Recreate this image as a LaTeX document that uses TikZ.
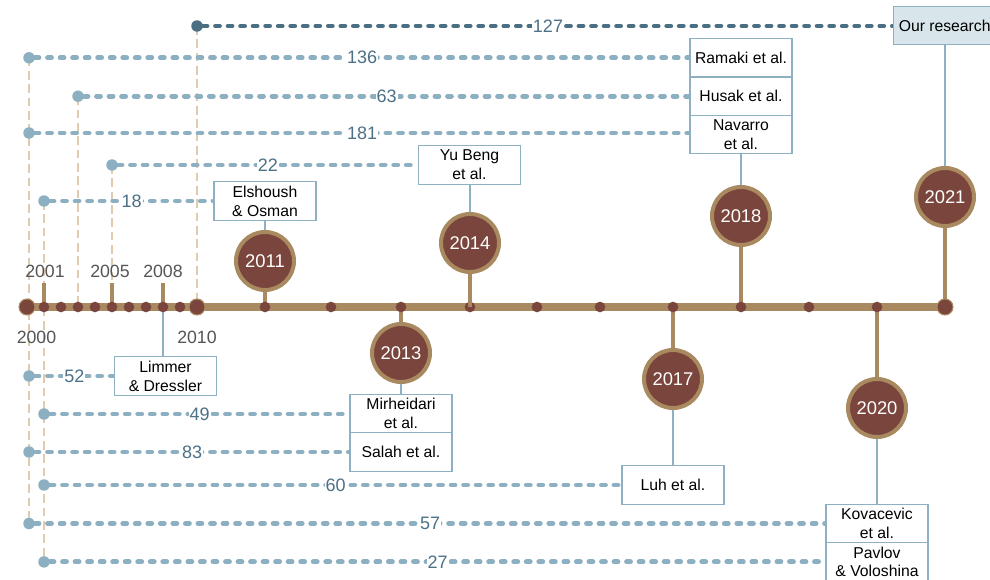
\documentclass[tikz,border=0pt]{standalone}
\usepackage{fontspec}
\setmainfont{Liberation Sans}
\definecolor{tan}{HTML}{A9895F}
\definecolor{guidetan}{HTML}{E0CAB0}
\definecolor{darkbrown}{HTML}{7A453C}
\definecolor{linkblue}{HTML}{8CAFC1}
\definecolor{deepblue}{HTML}{4A6E82}
\definecolor{numblue}{HTML}{4C7086}
\definecolor{boxblue}{HTML}{8DB1C3}
\definecolor{oursfill}{HTML}{D8E5EB}
\definecolor{yeargray}{HTML}{555555}
\pgfdeclarelayer{bg}
\pgfdeclarelayer{mid}
\pgfsetlayers{bg,mid,main}
\begin{document}
\begin{tikzpicture}[x=0.75pt,y=-0.75pt,
  tdot/.style={circle,fill=darkbrown,inner sep=0pt,minimum size=8pt},
  bigdot/.style={circle,fill=darkbrown,draw=tan,line width=0.8pt,inner sep=0pt,minimum size=12pt},
  yearcirc/.style={circle,fill=darkbrown,draw=tan,line width=3pt,minimum size=43.5pt,inner sep=0pt,
    text=white,font=\fontsize{13.8}{16}\selectfont},
  stem/.style={draw=tan,line width=3pt},
  tick/.style={draw=tan,line width=2.5pt},
  axis/.style={draw=tan,line width=5.4pt},
  guide/.style={draw=guidetan,line width=1.1pt,dash pattern=on 6.5pt off 3.5pt},
  link/.style={draw=linkblue,line width=3.6pt,line cap=round,dash pattern=on 3pt off 6.4pt},
  darklink/.style={link,draw=deepblue},
  ldot/.style={circle,fill=linkblue,inner sep=0pt,minimum size=8.6pt},
  darkdot/.style={ldot,fill=deepblue},
  refbox/.style={draw=boxblue,line width=1pt,fill=white,minimum width=76.5pt,minimum height=28.8pt,
    inner sep=1pt,align=center,font=\fontsize{11.8}{14.2}\selectfont},
  boxlink/.style={draw=boxblue,line width=1.1pt},
  numlabel/.style={fill=white,inner sep=0.8pt,text=numblue,font=\fontsize{13.5}{16}\selectfont},
  yearlabel/.style={text=yeargray,font=\fontsize{13.3}{16}\selectfont}]
\useasboundingbox (0,0) rectangle (990,580);

% timeline dots
\node[bigdot] (t2000) at (27,307) {};
\foreach \yr/\xx in {2001/44,2002/61,2003/78,2004/95,2005/112,2006/129,2007/146,2008/163,2009/180,
  2011/265,2012/331,2013/401,2014/470,2015/537,2016/600,2017/673,2018/741,2019/809,2020/877}
  \node[tdot] (t\yr) at (\xx,307) {};
\node[bigdot] (t2010) at (197,307) {};
\node[bigdot] (t2021) at (945,307) {};

% year circles
\node[yearcirc] (c2011) at (265,261) {2011};
\node[yearcirc] (c2013) at (401,353) {2013};
\node[yearcirc] (c2014) at (470,243) {2014};
\node[yearcirc] (c2017) at (673,379) {2017};
\node[yearcirc] (c2018) at (741,216) {2018};
\node[yearcirc] (c2020) at (877,408) {2020};
\node[yearcirc] (c2021) at (945,197) {2021};

% year labels on the axis
\node[yearlabel] (l2000) at (36.5,337) {2000};
\node[yearlabel] (l2001) at (45,271) {2001};
\node[yearlabel] (l2005) at (110,271) {2005};
\node[yearlabel] (l2008) at (163,271) {2008};
\node[yearlabel] (l2010) at (197,337) {2010};

% reference boxes
\node[refbox] (elsh) at (265,201) {Elshoush\\\& Osman};
\node[refbox] (limmer) at (165.5,376) {Limmer\\\& Dressler};
\node[refbox] (yubeng) at (469.5,165) {Yu Beng\\et al.};
\node[refbox] (mirh) at (401,413.7) {Mirheidari\\et al.};
\node[refbox] (salah) at (401,452) {Salah et al.};
\node[refbox] (luh) at (673,485) {Luh et al.};
\node[refbox] (ramaki) at (741,57.8) {Ramaki et al.};
\node[refbox] (husak) at (741,96.2) {Husak et al.};
\node[refbox] (navarro) at (741,134.6) {Navarro\\et al.};
\node[refbox] (kovac) at (877,523.5) {Kovacevic\\et al.};
\node[refbox] (pavlov) at (877,561.9) {Pavlov\\\& Voloshina};
\node[refbox,fill=oursfill,anchor=west,inner xsep=3pt] (ours) at (893,25.5) {Our research};

% citation dots
\node[darkdot] (d127) at (197,26) {};
\node[ldot] (d136) at (29,57.8) {};
\node[ldot] (d63) at (78,96.2) {};
\node[ldot] (d181) at (29,133) {};
\node[ldot] (d22) at (112,165) {};
\node[ldot] (d18) at (44,201) {};
\node[ldot] (d52) at (29,376) {};
\node[ldot] (d49) at (44,414) {};
\node[ldot] (d83) at (29,452) {};
\node[ldot] (d60) at (44,485) {};
\node[ldot] (d57) at (29,523.5) {};
\node[ldot] (d27) at (44,561.9) {};

\begin{pgfonlayer}{bg}
  % guide lines from the citation dots to the axis
  \draw[guide] (d136.center) -- (d57.center);
  \draw[guide] (d18.center) -- (d27.center);
  \draw[guide] (d63.center) -- (t2003.center);
  \draw[guide] (d22.center) -- (t2005.center);
  \draw[guide] (d127.center) -- (t2010.center);
  % citation links
  \draw[darklink] (d127) -- node[numlabel] {127} (d127 -| ours.west);
  \draw[link] (d136) -- node[numlabel] {136} (d136 -| ramaki.west);
  \draw[link] (d63) -- node[numlabel] {63} (d63 -| husak.west);
  \draw[link] (d181) -- node[numlabel] {181} (d181 -| navarro.west);
  \draw[link] (d22) -- node[numlabel] {22} (d22 -| yubeng.west);
  \draw[link] (d18) -- node[numlabel] {18} (d18 -| elsh.west);
  \draw[link] (d52) -- node[numlabel] {52} (d52 -| limmer.west);
  \draw[link] (d49) -- node[numlabel] {49} (d49 -| mirh.west);
  \draw[link] (d83) -- node[numlabel] {83} (d83 -| salah.west);
  \draw[link] (d60) -- node[numlabel] {60} (d60 -| luh.west);
  \draw[link] (d57) -- node[numlabel] {57} (d57 -| kovac.west);
  \draw[link] (d27) -- node[numlabel] {27} (d27 -| pavlov.west);
  % boxes to year circles
  \draw[boxlink] (elsh.south) -- (c2011.north);
  \draw[boxlink] (yubeng.south -| c2014) -- (c2014.north);
  \draw[boxlink] (navarro.south) -- (c2018.north);
  \draw[boxlink] (ours.south -| c2021) -- (c2021.north);
  \draw[boxlink] (c2013.south) -- (mirh.north);
  \draw[boxlink] (c2017.south) -- (luh.north);
  \draw[boxlink] (c2020.south) -- (kovac.north);
  \draw[boxlink] (t2008.center) -- (t2008 |- limmer.north);
\end{pgfonlayer}

\begin{pgfonlayer}{mid}
  \draw[axis] (t2000.center) -- (t2021.center);
  \draw[stem] (c2011) -- (t2011.center);
  \draw[stem] (c2013) -- (t2013.center);
  \draw[stem] (c2017) -- (t2017.center);
  \draw[stem] (c2018) -- (t2018.center);
  \draw[stem] (c2020) -- (t2020.center);
  \draw[stem] (c2021) -- (t2021.center);
  \draw[tick] (t2001.center) -- ([yshift=-1pt]t2001.center |- l2001.south);
  \draw[tick] (t2005.center) -- ([yshift=-1pt]t2005.center |- l2005.south);
  \draw[tick] (t2008.center) -- ([yshift=-1pt]t2008.center |- l2008.south);
\end{pgfonlayer}
\draw[stem] (c2014) -- (t2014.center);
\end{tikzpicture}
\end{document}
